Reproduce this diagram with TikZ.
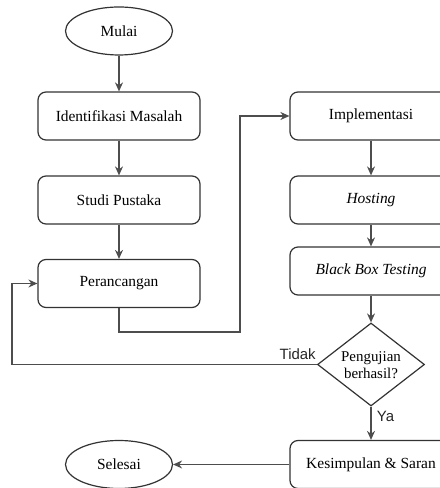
\documentclass[tikz,border=0pt]{standalone}
\usepackage{fontspec}
\setmainfont{Liberation Serif}
\newfontfamily\labelfont{Liberation Sans}
\usetikzlibrary{shapes.geometric,arrows.meta}

\definecolor{garis}{HTML}{4D4D4D}
\definecolor{tepi}{HTML}{333333}

\tikzset{
  proses/.style={draw=tepi, line width=1.2bp, rounded corners=8bp, minimum width=162bp, minimum height=48bp, inner sep=0pt, font=\fontsize{15.5}{18}\selectfont},
  terminal/.style={draw=tepi, line width=1.2bp, ellipse, minimum width=107bp, minimum height=48bp, inner sep=0pt, font=\fontsize{15.5}{18}\selectfont},
  keputusan/.style={draw=tepi, line width=1.2bp, diamond, minimum width=107bp, minimum height=83bp, inner sep=0pt},
  panah/.style={draw=garis, line width=1.2bp, -{Stealth[length=9bp,width=8bp]}},
  jawab/.style={font=\labelfont\fontsize{15}{18}\selectfont, text=black!85}
}

\begin{document}
\begin{tikzpicture}[x=1bp,y=1bp]
  \useasboundingbox (0,0) rectangle (440,488);
  \clip (0,0) rectangle (440,488);

  % kolom kiri
  \node[terminal] (mulai) at (119,457) {Mulai};
  \node[proses] (identifikasi) at (119,372) {Identifikasi Masalah};
  \node[proses] (studi) at (119,288) {Studi Pustaka};
  \node[proses] (rancang) at (119,204.5) {Perancangan};
  \node[terminal] (selesai) at (119,23.5) {Selesai};

  % kolom kanan
  \node[proses] (impl) at (371,372) {Implementasi};
  \node[proses] (hosting) at (371,288) {\textit{Hosting}};
  \node[proses] (bbt) at (371,217) {\textit{Black Box Testing}};
  \node[keputusan] (uji) at (371,123.5) {};
  \node[align=center, font=\fontsize{15}{17}\selectfont] (ujitext) at (371,123) {Pengujian\\berhasil?};
  \node[proses] (simpul) at (371,23.5) {Kesimpulan \& Saran};

  \coordinate (belok1) at (240,156);
  \coordinate (belok2) at (12,0);

  % alur
  \draw[panah] (mulai) -- (identifikasi);
  \draw[panah] (identifikasi) -- (studi);
  \draw[panah] (studi) -- (rancang);
  \draw[panah] (rancang.south) |- (belok1) |- (impl.west);
  \draw[panah] (impl) -- (hosting);
  \draw[panah] (hosting) -- (bbt);
  \draw[panah] (bbt) -- (uji);
  \draw[panah] (uji.south) -- (simpul.north) node[jawab, pos=0.3, right=2bp] {Ya};
  \draw[panah] (uji.west) -- (uji.west -| belok2) |- (rancang.west);
  \node[jawab, anchor=south east, inner sep=1bp] (tidak) at ([yshift=4bp]uji.west) {Tidak};
  \draw[panah] (simpul.west) -- (selesai.east);
\end{tikzpicture}
\end{document}
